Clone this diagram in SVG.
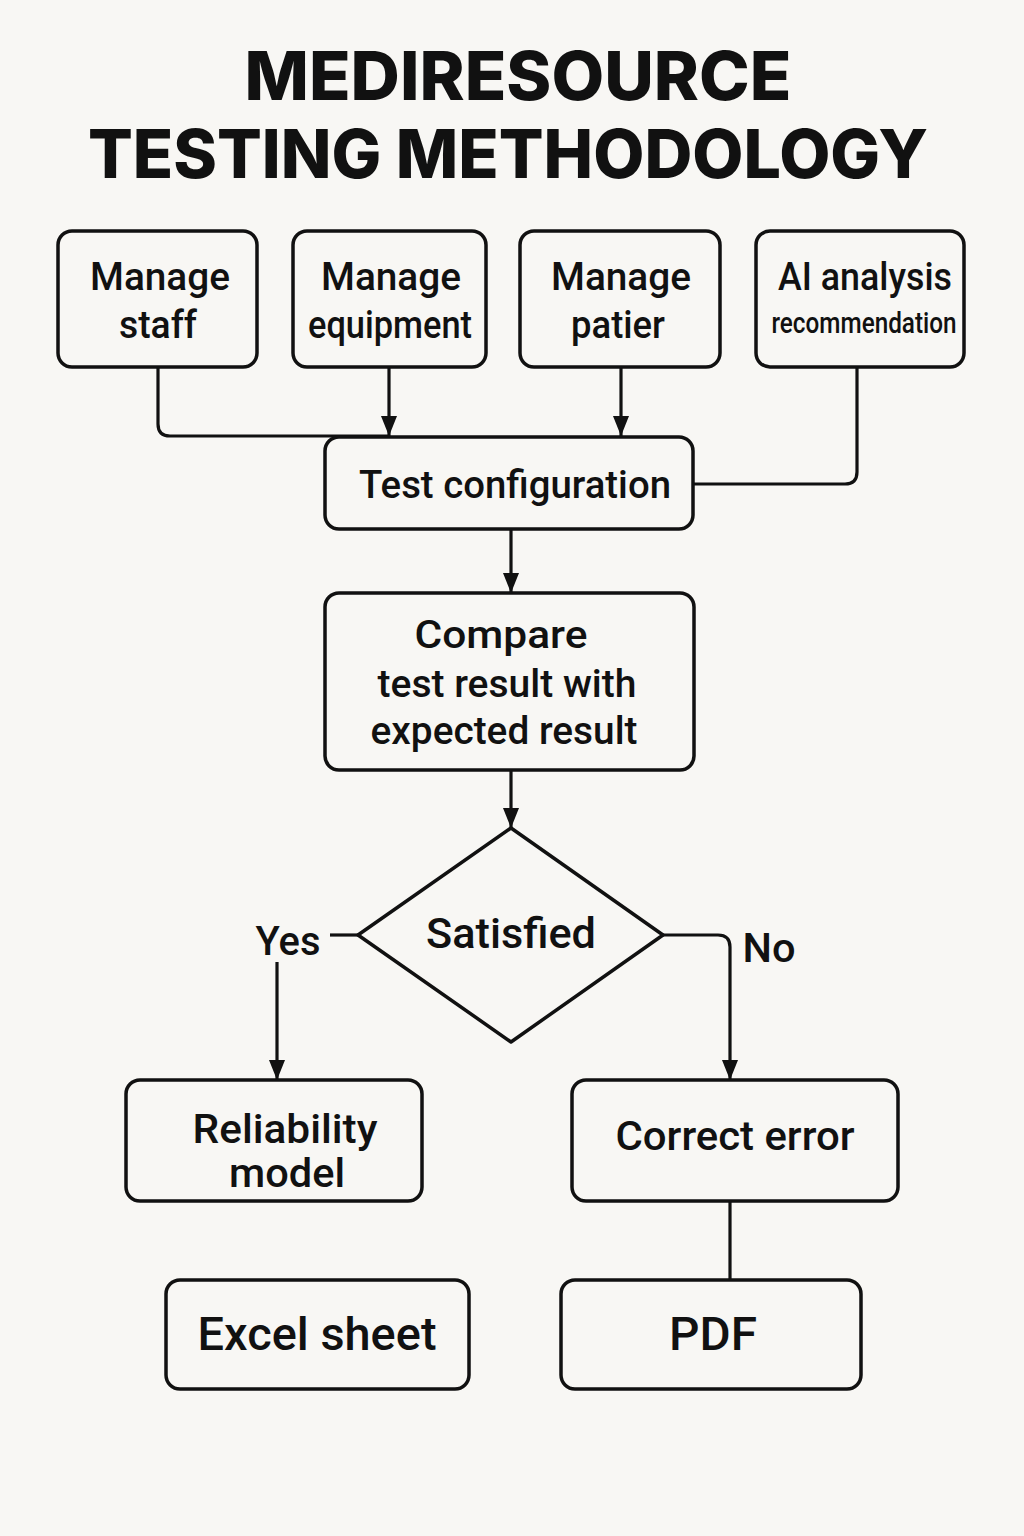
<svg xmlns="http://www.w3.org/2000/svg" width="1024" height="1536" viewBox="0 0 1024 1536">
<defs>
<style>
.bg{fill:#f8f7f4}
.box{fill:none;stroke:#111;stroke-width:3.5}
.ln{fill:none;stroke:#111;stroke-width:3.2;stroke-linejoin:round}
.t{font-family:Roboto,Inter,"Liberation Sans",sans-serif;font-weight:500;fill:#111;text-anchor:middle}
.title{font-family:Inter,"Noto Sans","Liberation Sans",sans-serif;font-weight:800;fill:#111;text-anchor:middle}
</style>
<marker id="ah" viewBox="0 0 20 16" refX="20" refY="8" markerWidth="20" markerHeight="16" markerUnits="userSpaceOnUse" orient="auto">
<path d="M0,0 L20,8 L0,16 z" fill="#111"/>
</marker>
</defs>
<rect class="bg" x="0" y="0" width="1024" height="1536"/>
<g id="title">
<text class="title" x="518" y="100" font-size="68" textLength="547" lengthAdjust="spacingAndGlyphs">MEDIRESOURCE</text>
<text class="title" x="508" y="178" font-size="68" textLength="840" lengthAdjust="spacingAndGlyphs">TESTING METHODOLOGY</text>
</g>
<g id="connectors">
<path class="ln" d="M158,367 V424 Q158,436 170,436 H389"/>
<path class="ln" d="M389,367 V436" marker-end="url(#ah)"/>
<path class="ln" d="M621,367 V436" marker-end="url(#ah)"/>
<path class="ln" d="M857,367 V472 Q857,484 845,484 H693"/>
<path class="ln" d="M511,529 V593" marker-end="url(#ah)"/>
<path class="ln" d="M511,770 V828" marker-end="url(#ah)"/>
<path class="ln" d="M358,935 H330"/>
<path class="ln" d="M277,962 V1080" marker-end="url(#ah)"/>
<path class="ln" d="M663,935 H718 Q730,935 730,947 V1080" marker-end="url(#ah)"/>
<path class="ln" d="M730,1201 V1280"/>
<text class="t" x="288" y="955" font-size="40" textLength="65" lengthAdjust="spacingAndGlyphs">Yes</text>
<text class="t" x="769" y="962" font-size="40" textLength="53" lengthAdjust="spacingAndGlyphs">No</text>
</g>
<g id="n-staff">
<rect class="box" x="58" y="231" width="199" height="136" rx="14"/>
<text class="t" x="160" y="290" font-size="39" textLength="140" lengthAdjust="spacingAndGlyphs">Manage</text>
<text class="t" x="158" y="338" font-size="39" textLength="78" lengthAdjust="spacingAndGlyphs">staff</text>
</g>
<g id="n-equipment">
<rect class="box" x="293" y="231" width="193" height="136" rx="14"/>
<text class="t" x="391" y="290" font-size="39" textLength="140" lengthAdjust="spacingAndGlyphs">Manage</text>
<text class="t" x="390" y="338" font-size="39" textLength="164" lengthAdjust="spacingAndGlyphs">equipment</text>
</g>
<g id="n-patient">
<rect class="box" x="520" y="231" width="200" height="136" rx="14"/>
<text class="t" x="621" y="290" font-size="39" textLength="140" lengthAdjust="spacingAndGlyphs">Manage</text>
<text class="t" x="618" y="338" font-size="39" textLength="94" lengthAdjust="spacingAndGlyphs">patier</text>
</g>
<g id="n-ai">
<rect class="box" x="756" y="231" width="208" height="136" rx="14"/>
<text class="t" x="865" y="290" font-size="38" textLength="174" lengthAdjust="spacingAndGlyphs">AI analysis</text>
<text class="t" x="864" y="333" font-size="30" textLength="185" lengthAdjust="spacingAndGlyphs">recommendation</text>
</g>
<g id="n-config">
<rect class="box" x="325" y="437" width="368" height="92" rx="14"/>
<text class="t" x="515" y="498" font-size="38" textLength="312" lengthAdjust="spacingAndGlyphs">Test configuration</text>
</g>
<g id="n-compare">
<rect class="box" x="325" y="593" width="369" height="177" rx="14"/>
<text class="t" x="501" y="648" font-size="39" textLength="173" lengthAdjust="spacingAndGlyphs">Compare</text>
<text class="t" x="507" y="697" font-size="39" textLength="259" lengthAdjust="spacingAndGlyphs">test result with</text>
<text class="t" x="504" y="744" font-size="39" textLength="267" lengthAdjust="spacingAndGlyphs">expected result</text>
</g>
<g id="n-satisfied">
<path class="box" d="M511,828 L663,935 L511,1042 L358,935 Z" stroke-linejoin="round"/>
<text class="t" x="511" y="948" font-size="42" textLength="170" lengthAdjust="spacingAndGlyphs">Satisfied</text>
</g>
<g id="n-reliability">
<rect class="box" x="126" y="1080" width="296" height="121" rx="14"/>
<text class="t" x="285" y="1143" font-size="40" textLength="185" lengthAdjust="spacingAndGlyphs">Reliability</text>
<text class="t" x="287" y="1187" font-size="40" textLength="116" lengthAdjust="spacingAndGlyphs">model</text>
</g>
<g id="n-correct">
<rect class="box" x="572" y="1080" width="326" height="121" rx="14"/>
<text class="t" x="735" y="1150" font-size="40" textLength="239" lengthAdjust="spacingAndGlyphs">Correct error</text>
</g>
<g id="n-excel">
<rect class="box" x="166" y="1280" width="303" height="109" rx="14"/>
<text class="t" x="317" y="1350" font-size="46" textLength="239" lengthAdjust="spacingAndGlyphs">Excel sheet</text>
</g>
<g id="n-pdf">
<rect class="box" x="561" y="1280" width="300" height="109" rx="14"/>
<text class="t" x="713" y="1350" font-size="46" textLength="88" lengthAdjust="spacingAndGlyphs">PDF</text>
</g>
</svg>
